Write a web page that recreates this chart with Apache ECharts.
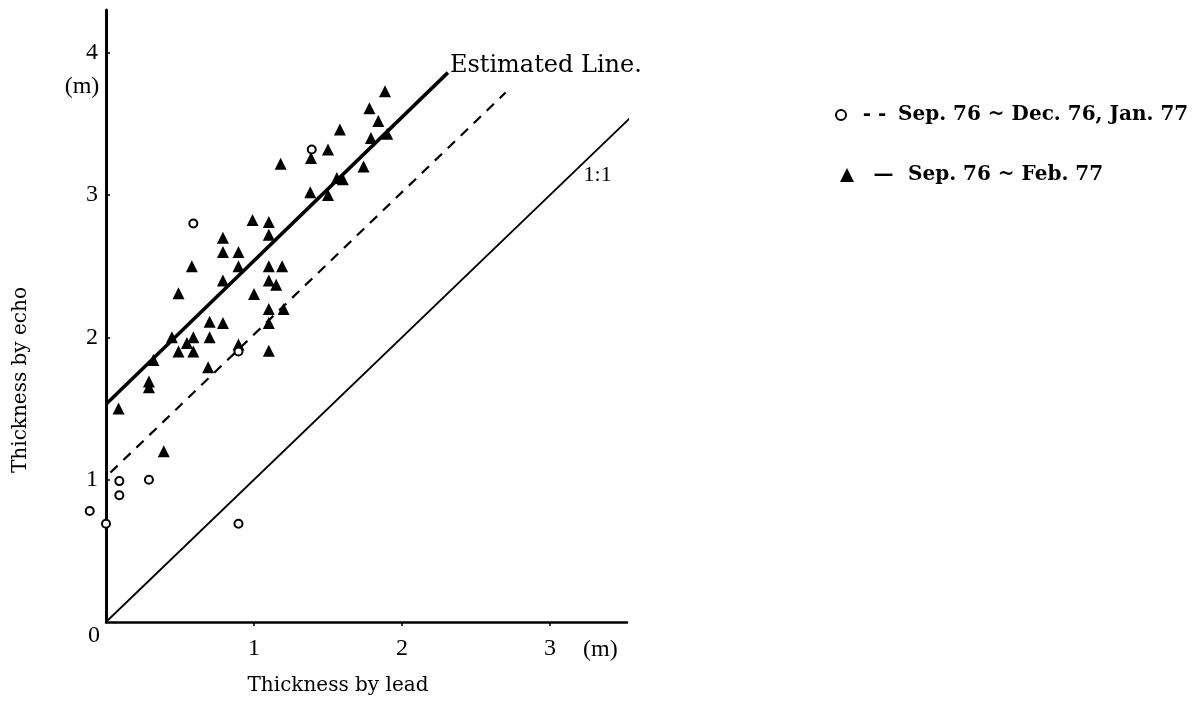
<!DOCTYPE html>
<html>
<head>
<meta charset="utf-8">
<title>Thickness by echo vs thickness by lead</title>
<script src="https://cdn.jsdelivr.net/npm/echarts@6/dist/echarts.min.js"></script>
<style>
  html, body { margin: 0; padding: 0; background: #fff; }
  #chart { width: 1196px; height: 703px; }
</style>
</head>
<body>
<div id="chart"></div>
<script>
// Sep. 76 ~ Feb. 77 measurements: [thickness by lead (m), thickness by echo (m)]
const febPoints = [
  [0.085, 1.50], [0.29, 1.69], [0.29, 1.65], [0.32, 1.84], [0.39, 1.20],
  [0.445, 2.00], [0.49, 2.31], [0.49, 1.90], [0.547, 1.96], [0.59, 2.00],
  [0.59, 1.90], [0.58, 2.50], [0.69, 1.79], [0.70, 2.11], [0.70, 2.00],
  [0.79, 2.10], [0.79, 2.40], [0.79, 2.60], [0.79, 2.70], [0.895, 2.50],
  [0.895, 2.60], [0.895, 1.95], [0.99, 2.825], [1.00, 2.305], [1.10, 2.81],
  [1.10, 2.72], [1.10, 2.50], [1.10, 2.40], [1.10, 2.20], [1.10, 2.10],
  [1.10, 1.905], [1.15, 2.37], [1.19, 2.50], [1.20, 2.20], [1.18, 3.22],
  [1.38, 3.02], [1.385, 3.26], [1.50, 3.32], [1.50, 3.00], [1.56, 3.12],
  [1.60, 3.11], [1.58, 3.46], [1.74, 3.20], [1.79, 3.40], [1.78, 3.61],
  [1.84, 3.52], [1.90, 3.43], [1.885, 3.73]
];

// Sep. 76 ~ Dec. 76, Jan. 77 measurements
const janPoints = [
  [-0.11, 0.78], [0.0, 0.69], [0.09, 0.99], [0.09, 0.89], [0.29, 1.00],
  [0.59, 2.80], [0.895, 1.90], [0.895, 0.69], [1.39, 3.32]
];

// Fitted and reference lines
const estimatedLine = [[0, 1.53], [2.31, 3.86]];
const janFitLine = [[0.03, 1.05], [2.70, 3.72]];
const identityLine = [[0, 0], [3.55, 3.55]];
const identityLabelAt = [3.2, 3.2];

const xTicks = [1, 2, 3];
const yTicks = [1, 2, 3, 4];
const seriesNames = ['Sep. 76 ~ Dec. 76, Jan. 77', 'Sep. 76 ~ Feb. 77'];

const TEXT_FONT = '"DejaVu Serif", "Liberation Serif", serif';
const NUM_FONT = '"Liberation Serif", "DejaVu Serif", serif';
const INK = '#000';

const chart = echarts.init(document.getElementById('chart'));

function legendBlock(name, dash, left, top, iconSize, dashWidth) {
  return {
    left: left, top: top, orient: 'vertical',
    itemWidth: iconSize, itemHeight: iconSize, selectedMode: false,
    data: [name],
    formatter: () => '{d|' + dash + '}{t|' + name + '}',
    textStyle: {
      fontFamily: TEXT_FONT, color: INK,
      rich: {
        d: { width: dashWidth, align: 'center', fontSize: 20, fontWeight: 'bold', lineHeight: 24, fontFamily: TEXT_FONT, color: INK },
        t: { fontSize: 20, fontWeight: 'bold', lineHeight: 24, fontFamily: TEXT_FONT, color: INK }
      }
    }
  };
}

chart.setOption({
  animation: false,
  backgroundColor: '#fff',
  textStyle: { fontFamily: TEXT_FONT, color: INK },
  grid: { left: 106, right: 569, top: 10, bottom: 81 },
  xAxis: {
    type: 'value', min: 0, max: 3.52, interval: 1,
    splitLine: { show: false },
    axisLine: { lineStyle: { color: INK, width: 2.5 } },
    axisTick: { show: true, length: 4, customValues: xTicks, lineStyle: { color: INK, width: 1.5 } },
    axisLabel: { customValues: xTicks, margin: 15, fontSize: 24, color: INK, fontFamily: NUM_FONT }
  },
  yAxis: {
    type: 'value', min: 0, max: 4.3, interval: 1,
    splitLine: { show: false },
    axisLine: { lineStyle: { color: INK, width: 3 } },
    axisTick: { show: true, inside: true, length: 4, customValues: yTicks, lineStyle: { color: INK, width: 1.5 } },
    axisLabel: { customValues: yTicks, margin: 8, fontSize: 24, color: INK, fontFamily: NUM_FONT }
  },
  legend: [
    legendBlock(seriesNames[0], '- -', 830, 100, 10, 47),
    legendBlock(seriesNames[1], '\u2014', 835, 160, 14, 49)
  ],
  series: [
    {
      name: 'identity', type: 'line', data: identityLine,
      showSymbol: false, symbol: 'none', silent: true,
      lineStyle: { color: INK, width: 1.8 }, z: 2
    },
    {
      name: 'janFit', type: 'line', data: janFitLine,
      showSymbol: false, symbol: 'none', silent: true,
      lineStyle: { color: INK, width: 2.2, type: [10, 8] }, z: 2
    },
    {
      name: 'estimated', type: 'line', data: estimatedLine,
      showSymbol: false, symbol: 'none', silent: true,
      lineStyle: { color: INK, width: 3.5 }, z: 2,
      endLabel: {
        show: true, formatter: 'Estimated Line.', distance: 2, offset: [0, -7],
        fontFamily: TEXT_FONT, fontSize: 24, color: INK
      }
    },
    {
      name: seriesNames[0], type: 'scatter', data: janPoints, clip: false,
      symbol: 'emptyCircle', symbolSize: 8,
      itemStyle: { color: INK, borderColor: INK, borderWidth: 2, opacity: 1 }, z: 4
    },
    {
      name: seriesNames[1], type: 'scatter', data: febPoints, clip: false,
      symbol: 'triangle', symbolSize: 12,
      itemStyle: { color: INK, opacity: 1 }, z: 3
    }
  ]
});

// Axis titles and unit marks, anchored to data positions
function px(pt) { return chart.convertToPixel({ gridIndex: 0 }, pt); }
const origin = px([0, 0]);
const xUnit = px([3.34, 0]);
const yUnit = px([0, 4]);
const oneOne = px(identityLabelAt);
const txt = (x, y, s, font) => ({
  type: 'text', x: x, y: y,
  style: { text: s, fill: INK, font: font, align: 'center', verticalAlign: 'middle' }
});

chart.setOption({
  graphic: [
    txt(origin[0] - 12, origin[1] + 14, '0', '24px ' + NUM_FONT),
    txt(xUnit[0], xUnit[1] + 28, '(m)', '24px ' + NUM_FONT),
    txt(yUnit[0] - 24, yUnit[1] + 34, '(m)', '24px ' + NUM_FONT),
    txt(oneOne[0] + 18, oneOne[1] + 9, '1:1', '22px ' + NUM_FONT),
    txt(338, 686, 'Thickness by lead', '20px ' + TEXT_FONT),
    {
      type: 'text', x: 21, y: 380, rotation: Math.PI / 2,
      style: { text: 'Thickness by echo', fill: INK, font: '20px ' + TEXT_FONT, align: 'center', verticalAlign: 'middle' }
    }
  ]
});
</script>
</body>
</html>
